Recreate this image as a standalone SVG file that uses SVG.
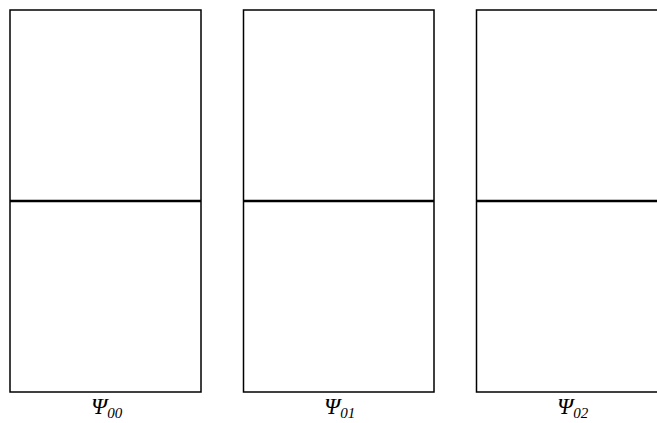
<svg xmlns="http://www.w3.org/2000/svg" width="657" height="423" viewBox="0 0 657 423">
<style>
.box{fill:none;stroke:#000;stroke-width:1.5}
.mid{stroke:#000;stroke-width:2.5}
.lbl{font-family:"Liberation Serif",serif;font-style:italic;font-size:23px;fill:#000}
.sub{font-size:15px}
</style>
<rect width="657" height="423" fill="#fff"/>
<g id="psi00">
<rect class="box" x="10" y="10" width="191" height="382"/>
<text class="lbl" x="91" y="414">Ψ<tspan class="sub" dy="4">00</tspan></text>
</g>
<g id="psi01">
<rect class="box" x="243.5" y="10" width="190.5" height="382"/>
<text class="lbl" x="324" y="414">Ψ<tspan class="sub" dy="4">01</tspan></text>
</g>
<g id="psi02">
<rect class="box" x="476.5" y="10" width="191" height="382"/>
<text class="lbl" x="557" y="414">Ψ<tspan class="sub" dy="4">02</tspan></text>
</g>
<g id="connectors">
<line class="mid" x1="10" y1="201" x2="201" y2="201"/>
<line class="mid" x1="243.5" y1="201" x2="434" y2="201"/>
<line class="mid" x1="476.5" y1="201" x2="657" y2="201"/>
</g>
</svg>
